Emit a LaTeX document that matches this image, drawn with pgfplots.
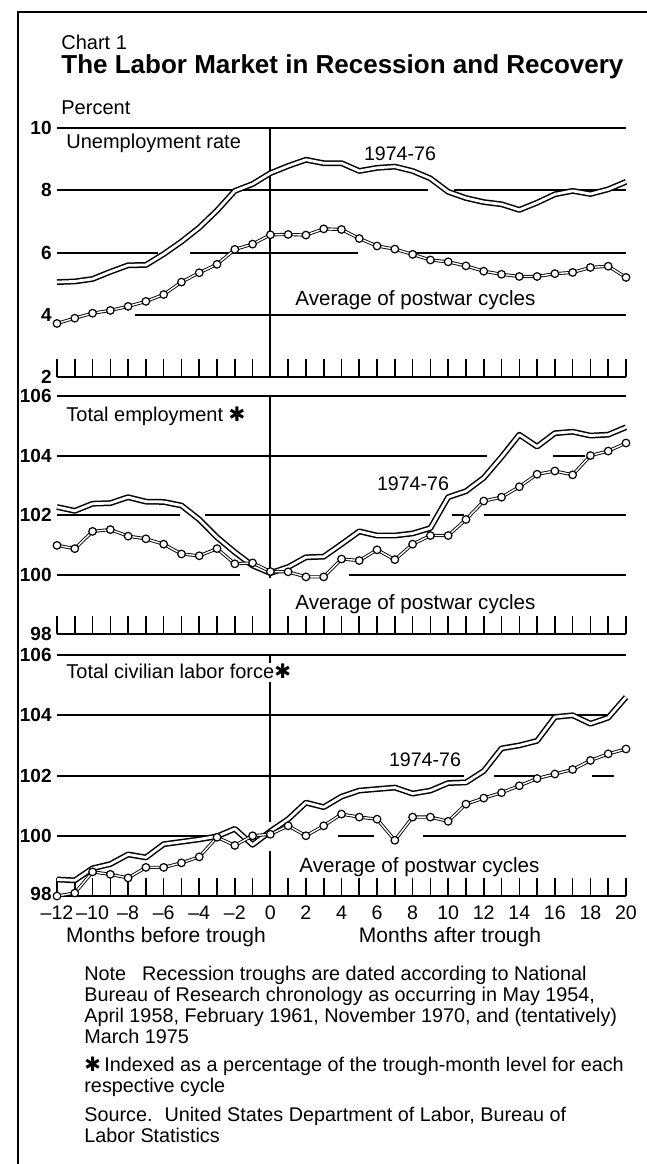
\documentclass[border=0pt]{standalone}
\usepackage{pgfplots}
\usepackage{pgfplotstable}
\pgfplotsset{compat=1.18}
\usepackage{fontspec}
\setmainfont{Liberation Sans}
\newfontfamily\dejavu{DejaVu Sans}
\newcommand{\hast}{{\dejavu\char"2731}}

\pgfplotstableread{
m   a     b
-12 5.05  3.72
-11 5.07  3.89
-10 5.15  4.05
-9  5.38  4.14
-8  5.59  4.27
-7  5.60  4.43
-6  5.95  4.65
-5  6.35  5.05
-4  6.80  5.35
-3  7.35  5.62
-2  7.98  6.10
-1  8.20  6.27
0   8.55  6.57
1   8.78  6.58
2   8.98  6.56
3   8.87  6.76
4   8.87  6.74
5   8.62  6.45
6   8.72  6.21
7   8.76  6.11
8   8.62  5.94
9   8.38  5.76
10  7.95  5.70
11  7.75  5.57
12  7.62  5.40
13  7.55  5.30
14  7.37  5.23
15  7.60  5.23
16  7.87  5.32
17  7.98  5.36
18  7.88  5.52
19  8.03  5.56
20  8.27  5.20
}\unemp

\pgfplotstableread{
m   a       b
-12 102.27  100.98
-11 102.14  100.87
-10 102.38  101.45
-9  102.40  101.51
-8  102.60  101.29
-7  102.45  101.20
-6  102.44  101.02
-5  102.32  100.69
-4  101.85  100.63
-3  101.25  100.87
-2  100.75  100.36
-1  100.30  100.39
0   100.05  100.10
1   100.25  100.09
2   100.58  99.92
3   100.60  99.92
4   101.02  100.52
5   101.45  100.47
6   101.31  100.83
7   101.31  100.50
8   101.38  101.02
9   101.56  101.31
10  102.60  101.31
11  102.80  101.85
12  103.25  102.47
13  103.95  102.60
14  104.70  102.95
15  104.30  103.37
16  104.75  103.48
17  104.80  103.35
18  104.67  104.00
19  104.70  104.15
20  104.95  104.42
}\emp

\pgfplotstableread{
m   a       b
-12 98.55   98.00
-11 98.52   98.10
-10 98.92   98.80
-9  99.06   98.72
-8  99.38   98.60
-7  99.28   98.95
-6  99.72   98.95
-5  99.80   99.10
-4  99.88   99.30
-3  99.98   99.95
-2  100.23  99.68
-1  99.70   100.00
0   100.15  100.05
1   100.55  100.33
2   101.10  100.00
3   100.95  100.33
4   101.30  100.72
5   101.50  100.62
6   101.55  100.55
7   101.60  99.85
8   101.40  100.62
9   101.50  100.62
10  101.75  100.48
11  101.77  101.05
12  102.15  101.25
13  102.90  101.43
14  103.00  101.66
15  103.15  101.90
16  103.94  102.05
17  104.00  102.20
18  103.72  102.50
19  103.92  102.72
20  104.60  102.88
}\labor

\pgfplotsset{
  panel/.style={
    scale only axis, width=284.5pt, anchor=south west,
    xmin=-12, xmax=20,
    axis x line*=bottom, axis y line*=left,
    y axis line style={draw=none},
    x axis line style={line width=1pt},
    xtick={-12,-10,...,20}, minor xtick={-11,-9,...,19},
    tick align=inside,
    major tick length=9pt, minor tick length=9pt,
    tick style={line width=0.8pt, black},
    ytick style={draw=none},
    clip=false,
    yticklabel style={font=\bfseries\fontsize{9.5}{10}\selectfont, anchor=east, inner sep=0pt, xshift=-2.5pt},
    xticklabel style={font=\fontsize{9.8}{10}\selectfont, yshift=-1.5pt},
  },
  gridl/.style={black, line width=1pt},
  recent/.style={black, line width=0.75pt, double=white, double distance=1.4pt, line join=round},
  avgline/.style={black, line width=0.45pt, double=white, double distance=0.7pt, line join=round},
  avgmarks/.style={only marks, mark=*, mark size=1.9pt, mark options={fill=white, draw=black, line width=0.6pt}},
}

\begin{document}
\begin{tikzpicture}
\useasboundingbox (0,0) rectangle (323.5pt,-582pt);

% ---------- Panel 1: Unemployment rate ----------
\begin{axis}[panel, at={(28.5pt,-188.5pt)}, height=124.5pt,
  ymin=2, ymax=10, ytick={2,4,6,8,10}, yticklabels={2,4,6,8,10}, xticklabels={}]
\addplot[gridl] coordinates {(-12,10) (20,10)};
\addplot[gridl] coordinates {(-12,8) (8.85,8)};
\addplot[gridl] coordinates {(10.35,8) (20,8)};
\addplot[gridl] coordinates {(-12,6) (-6.3,6)};
\addplot[gridl] coordinates {(-4.5,6) (4.9,6)};
\addplot[gridl] coordinates {(8.05,6) (20,6)};
\addplot[gridl] coordinates {(-7.6,4) (20,4)};
\addplot[gridl] coordinates {(0,2) (0,10)};
\addplot[recent] table[x=m,y=a] {\unemp};
\addplot[avgline] table[x=m,y=b] {\unemp};
\addplot[avgmarks] table[x=m,y=b] {\unemp};
\end{axis}

% ---------- Panel 2: Total employment ----------
\begin{axis}[panel, at={(28.5pt,-317pt)}, height=119pt,
  ymin=98, ymax=106, ytick={98,100,102,104,106}, yticklabels={98,100,102,104,106}, xticklabels={}]
\addplot[gridl] coordinates {(-12,106) (20,106)};
\addplot[gridl] coordinates {(-12,104) (12.2,104)};
\addplot[gridl] coordinates {(15.9,104) (17.7,104)};
\addplot[gridl] coordinates {(-12,102) (-5.1,102)};
\addplot[gridl] coordinates {(-3.7,102) (9.0,102)};
\addplot[gridl] coordinates {(10.2,102) (10.9,102)};
\addplot[gridl] coordinates {(12.0,102) (20,102)};
\addplot[gridl] coordinates {(-12,100) (-1.7,100)};
\addplot[gridl] coordinates {(4.4,100) (20,100)};
\addplot[gridl] coordinates {(0,99.87) (0,106)};
\addplot[gridl] coordinates {(0,98) (0,99.5)};
\addplot[recent] table[x=m,y=a] {\emp};
\addplot[avgline] table[x=m,y=b] {\emp};
\addplot[avgmarks] table[x=m,y=b] {\emp};
\end{axis}

% ---------- Panel 3: Civilian labor force ----------
\begin{axis}[panel, at={(28.5pt,-448pt)}, height=120.5pt,
  ymin=98, ymax=106, ytick={98,100,102,104,106},
  yticklabels={\raisebox{2.5pt}{98},100,102,104,106},
  xticklabels={--12,--10,--8,--6,--4,--2,0,2,4,6,8,10,12,14,16,18,20}]
\addplot[gridl] coordinates {(-12,106) (20,106)};
\addplot[gridl] coordinates {(-12,104) (19.3,104)};
\addplot[gridl] coordinates {(-12,102) (10.9,102)};
\addplot[gridl] coordinates {(12.6,102) (14.8,102)};
\addplot[gridl] coordinates {(18.1,102) (19.3,102)};
\addplot[gridl] coordinates {(-12,100) (-3.1,100)};
\addplot[gridl] coordinates {(3.8,100) (5.8,100)};
\addplot[gridl] coordinates {(8.6,100) (20,100)};
\addplot[gridl] coordinates {(0,105.75) (0,106)};
\addplot[gridl] coordinates {(0,100.45) (0,105.1)};
\addplot[gridl] coordinates {(0,98) (0,99.5)};
\addplot[recent] table[x=m,y=a] {\labor};
\addplot[avgline] table[x=m,y=b] {\labor};
\addplot[avgmarks] table[x=m,y=b] {\labor};
\end{axis}

% ---------- Texts ----------
\begin{scope}[x=0.5pt,y=-0.5pt]
\draw[line width=0.8pt] (18,1164) -- (18,12) -- (647,12);
\node[anchor=mid west, inner sep=0, font=\fontsize{10}{12}\selectfont] at (61,44) {Chart 1};
\node[anchor=mid west, inner sep=0, font=\bfseries\fontsize{13}{15}\selectfont] at (61,68) {The Labor Market in Recession and Recovery};
\node[anchor=mid west, inner sep=0, font=\fontsize{10}{12}\selectfont] at (61,109) {Percent};

\node[anchor=mid west, inner sep=0, font=\fontsize{10}{12}\selectfont] at (66,143) {Unemployment rate};
\node[inner sep=0, font=\fontsize{9.8}{11}\selectfont] at (400,154) {1974-76};
\node[anchor=mid west, inner sep=0, font=\fontsize{10.3}{12}\selectfont] at (295,300) {Average of postwar cycles};

\node[anchor=mid west, inner sep=0, font=\fontsize{10}{12}\selectfont] at (66,416) {Total employment \hast};
\node[inner sep=0, font=\fontsize{9.8}{11}\selectfont] at (413,484) {1974-76};
\node[anchor=mid west, inner sep=0, font=\fontsize{10.3}{12}\selectfont] at (295,604) {Average of postwar cycles};

\node[anchor=mid west, inner sep=0, font=\fontsize{10}{12}\selectfont] at (66,673) {Total civilian labor force\hast};
\node[inner sep=0, font=\fontsize{9.8}{11}\selectfont] at (425,760) {1974-76};
\node[anchor=mid west, inner sep=0, font=\fontsize{10.3}{12}\selectfont] at (299,867) {Average of postwar cycles};

\node[inner sep=0, font=\fontsize{10.5}{12}\selectfont] at (166,937) {Months before trough};
\node[inner sep=0, font=\fontsize{10.5}{12}\selectfont] at (450,937) {Months after trough};

\begin{scope}[every node/.style={anchor=mid west, inner sep=0, font=\fontsize{9.9}{10}\selectfont}]
\node at (84,975) {Note\hspace{0.8em}Recession troughs are dated according to National};
\node at (84,996) {Bureau of Research chronology as occurring in May 1954,};
\node at (84,1017) {April 1958, February 1961, November 1970, and (tentatively)};
\node at (84,1038) {March 1975};
\node at (84,1066) {\hast\,Indexed as a percentage of the trough-month level for each};
\node at (84,1087) {respective cycle};
\node at (84,1116) {Source.\hspace{0.6em}United States Department of Labor, Bureau of};
\node at (84,1137) {Labor Statistics};
\end{scope}
\end{scope}
\end{tikzpicture}
\end{document}
